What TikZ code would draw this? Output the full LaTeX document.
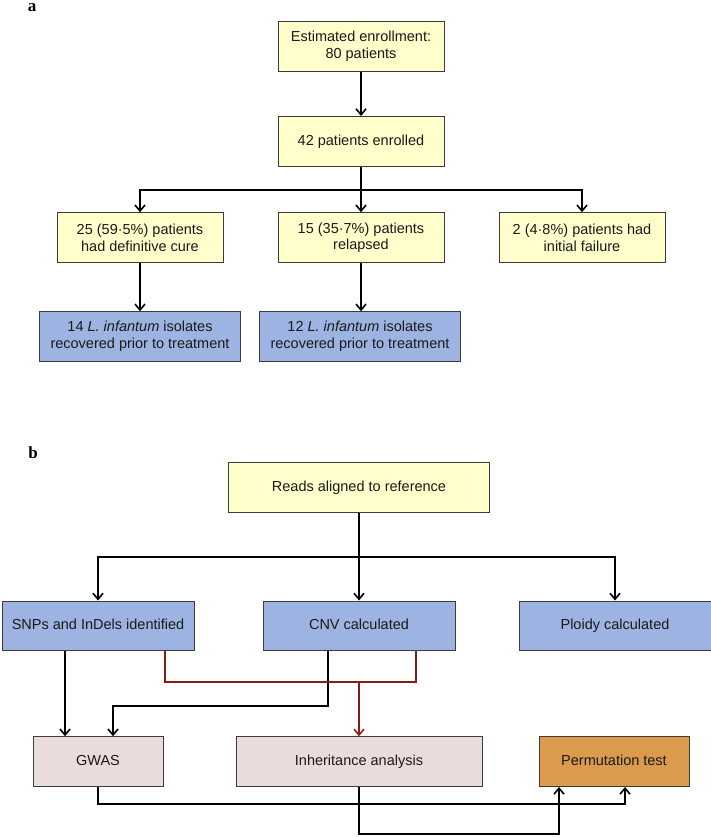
\documentclass[tikz,border=0pt]{standalone}
\usepackage{fontspec}
\setmainfont{Liberation Sans}
\newfontfamily\labelfont{Liberation Serif}
\usetikzlibrary{arrows.meta}
\definecolor{yel}{HTML}{FFFFCC}
\definecolor{blu}{HTML}{9DB3E1}
\definecolor{pnk}{HTML}{EADCDC}
\definecolor{org}{HTML}{DB9A4E}
\definecolor{redl}{HTML}{8C1A14}
\definecolor{bord}{HTML}{3C3C3C}
\definecolor{txt}{HTML}{1A1A1A}
\tikzset{
  box/.style={draw=bord, line width=0.9pt, inner sep=0pt, align=center, text=txt,
    font=\fontsize{14.5}{16.7}\selectfont, minimum height=50pt},
  oneline/.style={text height=10.5pt, text depth=3pt},
  ybox/.style={box, fill=yel},
  bbox/.style={box, fill=blu},
  pbox/.style={box, fill=pnk},
  obox/.style={box, fill=org},
  arr/.style={line width=1.9pt, black, -{Straight Barb[length=6pt,width=10pt,line width=1.6pt]}},
  plain/.style={line width=1.9pt, black},
  redline/.style={line width=1.7pt, redl},
  redarr/.style={line width=1.7pt, redl, -{Straight Barb[length=6pt,width=10pt,line width=1.5pt]}},
  panel/.style={font=\labelfont\bfseries\fontsize{17}{17}\selectfont, anchor=base}
}
\begin{document}
\begin{tikzpicture}[x=1pt,y=-1pt]
\useasboundingbox (0,0) rectangle (711,837);
% ---------- panel a ----------
\node[panel] (la) at (32,12) {a};
\node[ybox, minimum width=166pt] (e1) at (361,46.5) {Estimated enrollment:\\80 patients};
\node[ybox, oneline, minimum width=166pt] (e2) at (361,141.5) {42 patients enrolled};
\node[ybox, minimum width=166pt] (cure) at (140,237.7) {25 (59·5\%) patients\\had definitive cure};
\node[ybox, minimum width=166pt] (rel) at (361,237.7) {15 (35·7\%) patients\\relapsed};
\node[ybox, minimum width=166pt] (fail) at (582,237.7) {2 (4·8\%) patients had\\initial failure};
\node[bbox, minimum width=201pt, minimum height=49.3pt] (iso1) at (140,336.4) {14 \textit{L. infantum} isolates\\recovered prior to treatment};
\node[bbox, minimum width=201pt, minimum height=49.3pt] (iso2) at (360,336.4) {12 \textit{L. infantum} isolates\\recovered prior to treatment};
\coordinate (sa) at (361,190);
\draw[arr] (e1) -- (e2);
\draw[plain] (e2.south) -- (sa);
\draw[arr] (sa) -| (cure.north);
\draw[arr] (sa) -- (rel.north);
\draw[arr] (sa) -| (fail.north);
\draw[arr] (cure) -- (iso1);
\draw[arr] (rel.south) -- (rel.south |- iso2.north);
% ---------- panel b ----------
\node[panel] (lb) at (33,458) {b};
\node[ybox, oneline, minimum width=261pt, minimum height=49.6pt] (reads) at (359,487.5) {Reads aligned to reference};
\node[bbox, oneline, minimum width=192pt, minimum height=49.7pt] (snps) at (98,625.8) {SNPs and InDels identified};
\node[bbox, oneline, minimum width=192pt, minimum height=49.7pt] (cnv) at (359,625.8) {CNV calculated};
\node[bbox, oneline, minimum width=192pt, minimum height=49.7pt] (ploidy) at (615,625.8) {Ploidy calculated};
\node[pbox, oneline, minimum width=130pt, minimum height=49.8pt] (gwas) at (98,761.6) {GWAS};
\node[pbox, oneline, minimum width=246pt, minimum height=49.8pt] (inh) at (359,761.6) {Inheritance analysis};
\node[obox, oneline, minimum width=150pt, minimum height=49.8pt] (perm) at (614,761.6) {Permutation test};
\coordinate (sb) at (359,557);
\draw[plain] (reads.south) -- (sb);
\draw[arr] (sb) -| (snps.north);
\draw[arr] (sb) -- (cnv.north);
\draw[arr] (sb) -| (ploidy.north);
% SNPs -> GWAS
\coordinate (s1) at (65,690);
\draw[arr] (snps.south -| s1) -- (gwas.north -| s1);
% CNV -> GWAS
\coordinate (g1) at (328,706);
\coordinate (g2) at (113,706);
\draw[arr] (cnv.south -| g1) -- (g1) -- (g2) -- (gwas.north -| g2);
% red merge -> inheritance
\coordinate (rL) at (165,682);
\coordinate (rR) at (416,682);
\draw[redline] (snps.south -| rL) -- (rL) -- (rR) -- (cnv.south -| rR);
\draw[redarr] (cnv.south |- rL) -- (inh.north);
% to permutation test
\coordinate (p1) at (98,804);
\coordinate (p2) at (625,804);
\draw[arr] (gwas.south -| p1) -- (p1) -- (p2) -- (perm.south -| p2);
\coordinate (q1) at (359,834);
\coordinate (q2) at (559,834);
\draw[arr] (inh.south) -- (q1) -- (q2) -- (perm.south -| q2);
\end{tikzpicture}
\end{document}
